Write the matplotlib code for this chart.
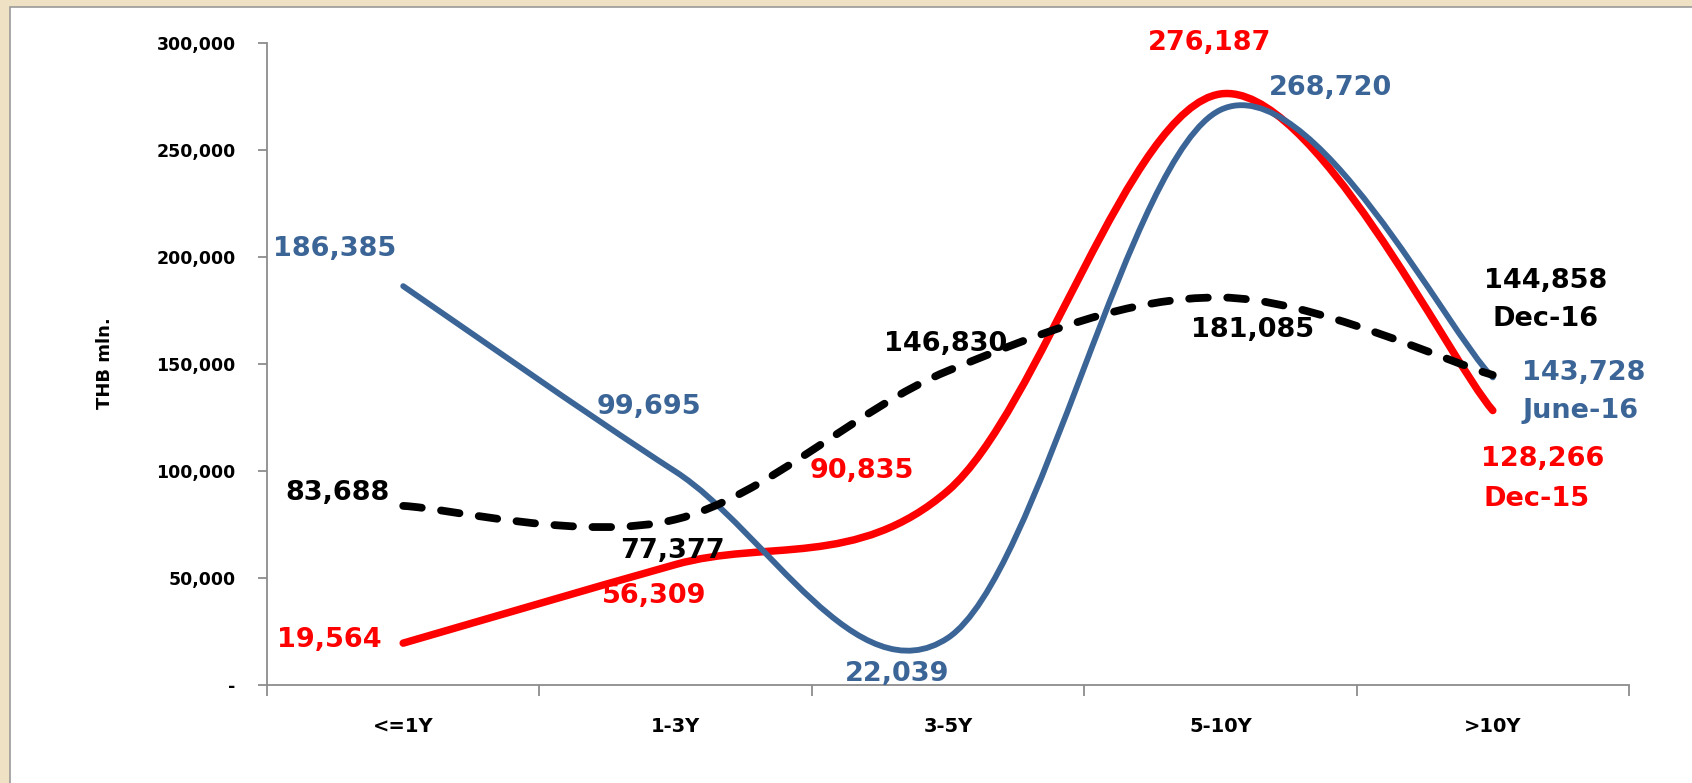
import numpy as np
import matplotlib.pyplot as plt
from matplotlib.path import Path
from matplotlib.patches import PathPatch, Rectangle

categories = ['<=1Y', '1-3Y', '3-5Y', '5-10Y', '>10Y']
dec15 = [19564, 56309, 90835, 276187, 128266]
jun16 = [186385, 99695, 22039, 268720, 143728]
dec16 = [83688, 77377, 146830, 181085, 144858]
yticks = [0, 50000, 100000, 150000, 200000, 250000, 300000]

# label offsets from each point, in pixels (x right, y down)
off15 = [(-74, -3), (-21, 32), (-86, -20), (-11, -51), (50, 48)]
off_j16 = [(-69, -37), (-27, -65), (-51, 36), (110, -22), (91, -4)]
off16 = [(-66, -13), (-3, 32), (-2, -27), (32, 33), (53, -94)]

red = '#FF0000'
blue = '#3B6597'
black = '#000000'
lab_size = 19.5


def smooth_path(xs, ys):
    # excel style smoothed line: bezier segments with catmull-rom tangents
    pts = np.column_stack([xs, ys]).astype(float)
    n = len(pts)
    verts = [pts[0]]
    codes = [Path.MOVETO]
    for i in range(n - 1):
        p0 = pts[max(i - 1, 0)]
        p1 = pts[i]
        p2 = pts[i + 1]
        p3 = pts[min(i + 2, n - 1)]
        verts += [p1 + (p2 - p0) / 6, p2 - (p3 - p1) / 6, p2]
        codes += [Path.CURVE4] * 3
    return Path(verts, codes)


fig = plt.figure(figsize=(16.92, 7.83), dpi=100)
fig.patch.set_facecolor('#EFE1C3')
fig.patches.append(Rectangle((10 / 1692, -0.01), 1.0, 1 - 7 / 783 + 0.01,
                             transform=fig.transFigure, facecolor='white',
                             edgecolor='#9A9A9A', lw=1.2, zorder=-5))

ax = fig.add_axes([267 / 1692, 1 - 685 / 783, 1362 / 1692, 642 / 783])
ax.set_zorder(2)
ax.set_facecolor('none')
ax.set_xlim(-0.5, 4.5)
ax.set_ylim(0, 300000)

x = np.arange(len(categories))
series = [(dec15, red, 5.4, '-', off15),
          (jun16, blue, 4.2, '-', off_j16),
          (dec16, black, 5.6, '--', off16)]
for vals, col, lw, ls, offs in series:
    p = PathPatch(smooth_path(x, vals), facecolor='none', edgecolor=col, lw=lw,
                  capstyle='round', joinstyle='round', clip_on=False)
    if ls == '--':
        p.set_linestyle((0, (2.4, 2.5)))
    ax.add_patch(p)
    for xi, v, (dx, dy) in zip(x, vals, offs):
        ax.annotate(f'{v:,}', (xi, v), xytext=(dx, -dy), textcoords='offset pixels',
                    ha='center', va='center', fontsize=lab_size, fontweight='bold', color=col)

# series names at the right end
ax.annotate('Dec-15', (4, dec15[4]), xytext=(44, -88), textcoords='offset pixels',
            ha='center', va='center', fontsize=lab_size, fontweight='bold', color=red)
ax.annotate('June-16', (4, jun16[4]), xytext=(88, -34), textcoords='offset pixels',
            ha='center', va='center', fontsize=lab_size, fontweight='bold', color=blue)
ax.annotate('Dec-16', (4, dec16[4]), xytext=(53, 56), textcoords='offset pixels',
            ha='center', va='center', fontsize=lab_size, fontweight='bold', color=black)

for s in ['top', 'right']:
    ax.spines[s].set_visible(False)
for s in ['left', 'bottom']:
    ax.spines[s].set_color('#8C8C8C')
    ax.spines[s].set_linewidth(1.3)

ax.set_yticks(yticks)
ax.set_yticklabels([f'{v:,}' if v else '-' for v in yticks],
                   fontsize=12.5, fontweight='bold')
ax.tick_params(axis='y', length=6.5, width=1.3, color='#8C8C8C', pad=16)

ax.set_xticks(x)
ax.set_xticklabels(categories, fontsize=14, fontweight='bold')
ax.set_xticks(np.arange(-0.5, 5, 1), minor=True)
ax.tick_params(axis='x', which='major', length=0, pad=23)
ax.tick_params(axis='x', which='minor', length=8, width=1.3, color='#8C8C8C')

fig.text(105 / 1692, 1 - 363 / 783, 'THB mln.', rotation=90, ha='center', va='center',
         fontsize=13, fontweight='bold')

fig.savefig('out.png', dpi=100, facecolor=fig.get_facecolor())
